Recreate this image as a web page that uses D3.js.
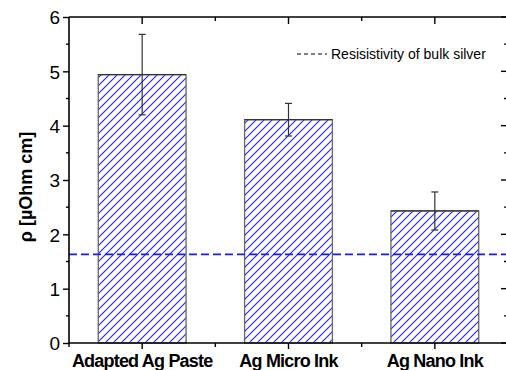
<!DOCTYPE html>
<html>
<head>
<meta charset="utf-8">
<script src="https://cdn.jsdelivr.net/npm/d3@7"></script>
<style>
  body { margin: 0; background: #fff; }
  svg { display: block; font-family: "Liberation Sans", Arial, sans-serif; }
</style>
</head>
<body>
<div id="chart"></div>
<script>
// data
const categories = ['Adapted Ag Paste', 'Ag Micro Ink', 'Ag Nano Ink'];
const resistivity = [4.94, 4.11, 2.43];
const errors = [0.74, 0.30, 0.35];
const bulkSilver = 1.63;
const yTicks = [0, 1, 2, 3, 4, 5, 6];
const legendLabel = 'Resisistivity of bulk silver';

const W = 506, H = 370;
const plotL = 69, plotR = 508, plotT = 17, plotB = 343;

const svg = d3.select('#chart').append('svg')
    .attr('width', W)
    .attr('height', H);

// hatch pattern for the bars
const defs = svg.append('defs');
const pat = defs.append('pattern')
    .attr('id', 'hatch')
    .attr('patternUnits', 'userSpaceOnUse')
    .attr('width', 8).attr('height', 8);
pat.append('rect').attr('width', 8).attr('height', 8).attr('fill', '#fff');
pat.append('path')
    .attr('d', 'M-2,2 L2,-2 M0,8 L8,0 M6,10 L10,6')
    .attr('stroke', '#2020ff')
    .attr('stroke-width', 1.1);

const x = d3.scaleBand().domain(categories).range([plotL, plotR]).paddingInner(0).paddingOuter(0);
const y = d3.scaleLinear().domain([0, 6]).range([plotB, plotT]);
const barW = x.bandwidth() * 0.6;

// bars
svg.append('g').selectAll('rect')
    .data(categories)
    .join('rect')
    .attr('x', d => x(d) + x.bandwidth() / 2 - barW / 2)
    .attr('y', (d, i) => y(resistivity[i]))
    .attr('width', barW)
    .attr('height', (d, i) => y(0) - y(resistivity[i]))
    .attr('fill', 'url(#hatch)')
    .attr('stroke', '#666')
    .attr('stroke-width', 1.3);

// bar tops slightly darker
svg.append('g').selectAll('line')
    .data(categories)
    .join('line')
    .attr('x1', d => x(d) + x.bandwidth() / 2 - barW / 2)
    .attr('x2', d => x(d) + x.bandwidth() / 2 + barW / 2)
    .attr('y1', (d, i) => y(resistivity[i]))
    .attr('y2', (d, i) => y(resistivity[i]))
    .attr('stroke', '#333')
    .attr('stroke-width', 1.3);

// bulk silver line
svg.append('line')
    .attr('x1', plotL).attr('x2', W)
    .attr('y1', y(bulkSilver)).attr('y2', y(bulkSilver))
    .attr('stroke', '#1a1aff')
    .attr('stroke-width', 1.8)
    .attr('stroke-dasharray', '8,4');

// error bars
const eb = svg.append('g').attr('stroke', '#333').attr('stroke-width', 1.2);
categories.forEach((c, i) => {
    const cx = x(c) + x.bandwidth() / 2;
    const hi = y(resistivity[i] + errors[i]);
    const lo = y(resistivity[i] - errors[i]);
    eb.append('line').attr('x1', cx).attr('x2', cx).attr('y1', hi).attr('y2', lo);
    eb.append('line').attr('x1', cx - 3.5).attr('x2', cx + 3.5).attr('y1', hi).attr('y2', hi);
    eb.append('line').attr('x1', cx - 3.5).attr('x2', cx + 3.5).attr('y1', lo).attr('y2', lo);
});

// frame
const frame = svg.append('g').attr('stroke', '#000').attr('stroke-width', 1.6);
frame.append('line').attr('x1', plotL).attr('x2', W).attr('y1', plotT).attr('y2', plotT);
frame.append('line').attr('x1', plotL).attr('x2', W).attr('y1', plotB).attr('y2', plotB);
frame.append('line').attr('x1', plotL).attr('x2', plotL).attr('y1', plotT).attr('y2', plotB + 1);

// left axis
const yAxis = d3.axisLeft(y).tickValues(yTicks).tickSize(6).tickPadding(3).tickFormat(d3.format('d'));
const gy = svg.append('g').attr('transform', `translate(${plotL},0)`).call(yAxis);
gy.select('.domain').remove();
gy.selectAll('.tick line').attr('stroke-width', 1.4);
gy.selectAll('.tick text').attr('font-size', 19).attr('fill', '#000').attr('dy', '0.36em');

// minor ticks (half units)
const minorY = d3.range(0.5, 6, 1);
svg.append('g').selectAll('line').data(minorY).join('line')
    .attr('x1', plotL - 3).attr('x2', plotL)
    .attr('y1', d => y(d)).attr('y2', d => y(d))
    .attr('stroke', '#000').attr('stroke-width', 1.4);

// right side inward ticks (axis itself is just outside the window)
svg.append('g').selectAll('line').data(yTicks.concat(minorY)).join('line')
    .attr('x1', d => Number.isInteger(d) ? plotR - 7 : plotR - 4)
    .attr('x2', plotR)
    .attr('y1', d => y(d)).attr('y2', d => y(d))
    .attr('stroke', '#000').attr('stroke-width', 1.4);

// bottom axis
const xAxis = d3.axisBottom(x).tickSize(6).tickPadding(5);
const gx = svg.append('g').attr('transform', `translate(0,${plotB})`).call(xAxis);
gx.select('.domain').remove();
gx.selectAll('.tick line').attr('stroke-width', 1.4);
gx.selectAll('.tick text')
    .attr('font-size', 18)
    .attr('font-weight', 'bold')
    .attr('fill', '#000')
    .attr('letter-spacing', '-0.8px');

// minor ticks on category boundaries
const bounds = categories.map(c => x(c));
svg.append('g').selectAll('line').data(bounds).join('line')
    .attr('x1', d => d).attr('x2', d => d)
    .attr('y1', plotB).attr('y2', plotB + 4)
    .attr('stroke', '#000').attr('stroke-width', 1.4);

// top inward ticks
svg.append('g').selectAll('line').data(categories).join('line')
    .attr('x1', d => x(d) + x.bandwidth() / 2).attr('x2', d => x(d) + x.bandwidth() / 2)
    .attr('y1', plotT).attr('y2', plotT + 7)
    .attr('stroke', '#000').attr('stroke-width', 1.4);
svg.append('g').selectAll('line').data(bounds.slice(1)).join('line')
    .attr('x1', d => d).attr('x2', d => d)
    .attr('y1', plotT).attr('y2', plotT + 4)
    .attr('stroke', '#000').attr('stroke-width', 1.4);

// y title
svg.append('text')
    .attr('transform', `translate(32,${(plotT + plotB) / 2 + 7}) rotate(-90)`)
    .attr('text-anchor', 'middle')
    .attr('font-size', 18)
    .attr('font-weight', 'bold')
    .text('ρ [µOhm cm]');

// legend
svg.append('line')
    .attr('x1', 297).attr('x2', 327)
    .attr('y1', 54).attr('y2', 54)
    .attr('stroke', '#000')
    .attr('stroke-width', 1)
    .attr('stroke-dasharray', '4,3');
svg.append('text')
    .attr('x', 331).attr('y', 59)
    .attr('font-size', 14)
    .text(legendLabel);
</script>
</body>
</html>
